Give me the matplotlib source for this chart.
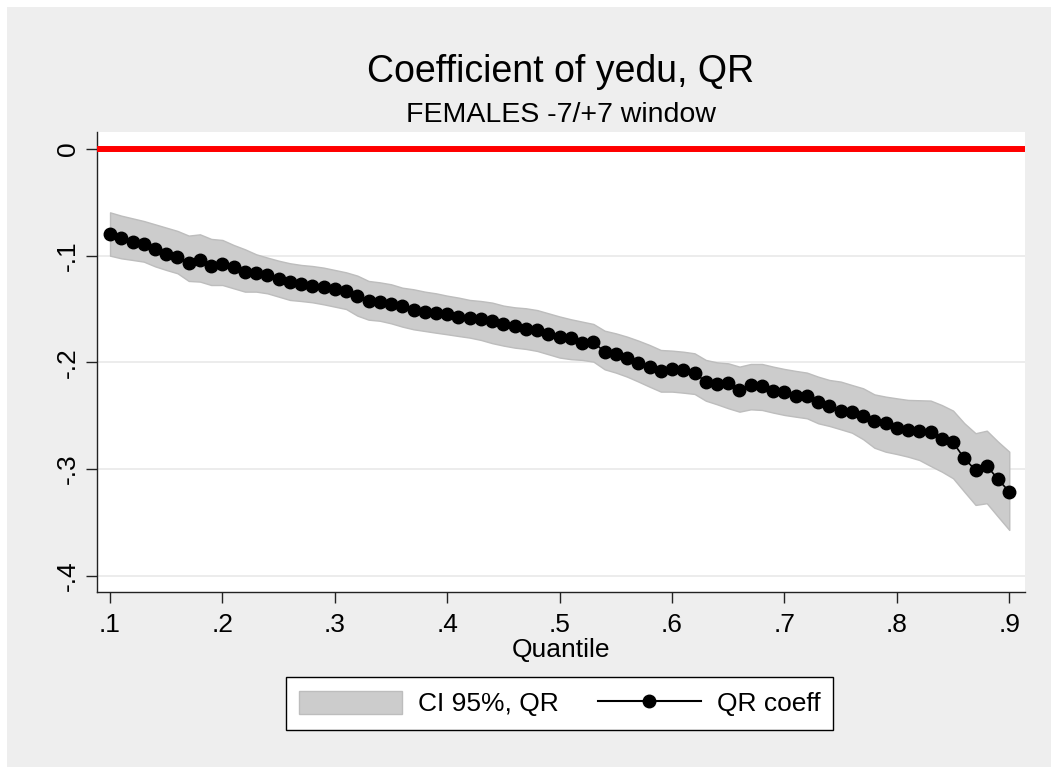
import numpy as np
import matplotlib
matplotlib.use("Agg")
import matplotlib.pyplot as plt
from matplotlib.patches import Rectangle, Patch
from matplotlib.lines import Line2D

plt.rcParams['font.family'] = ['Liberation Sans', 'DejaVu Sans']

# quantiles .10 ... .90
quantile = np.round(np.arange(10, 91) / 100.0, 2)

# QR coefficient of yedu at each quantile
coef = [
    -0.0800, -0.0837, -0.0875, -0.0889, -0.0940, -0.0981, -0.1015, -0.1068, -0.1043, -0.1093,
    -0.1081, -0.1106, -0.1155, -0.1163, -0.1180, -0.1220, -0.1250, -0.1270, -0.1280, -0.1292,
    -0.1315, -0.1330, -0.1375, -0.1425, -0.1437, -0.1456, -0.1475, -0.1510, -0.1530, -0.1534,
    -0.1550, -0.1578, -0.1587, -0.1590, -0.1610, -0.1643, -0.1656, -0.1687, -0.1700, -0.1730,
    -0.1765, -0.1774, -0.1815, -0.1812, -0.1900, -0.1925, -0.1960, -0.2003, -0.2046, -0.2080,
    -0.2065, -0.2070, -0.2100, -0.2180, -0.2200, -0.2196, -0.2259, -0.2212, -0.2218, -0.2265,
    -0.2280, -0.2312, -0.2312, -0.2368, -0.2409, -0.2452, -0.2468, -0.2502, -0.2553, -0.2570,
    -0.2618, -0.2634, -0.2640, -0.2650, -0.2718, -0.2750, -0.2900, -0.3010, -0.2968, -0.3096,
    -0.3212,
]

# 95% confidence band
ci_upper = [
    -0.0594, -0.0625, -0.0650, -0.0675, -0.0706, -0.0737, -0.0768, -0.0812, -0.0800, -0.0843,
    -0.0853, -0.0900, -0.0940, -0.0987, -0.1018, -0.1047, -0.1071, -0.1087, -0.1097, -0.1112,
    -0.1134, -0.1156, -0.1187, -0.1237, -0.1250, -0.1268, -0.1300, -0.1315, -0.1337, -0.1353,
    -0.1375, -0.1393, -0.1415, -0.1425, -0.1440, -0.1468, -0.1484, -0.1493, -0.1510, -0.1540,
    -0.1570, -0.1596, -0.1618, -0.1640, -0.1703, -0.1728, -0.1759, -0.1796, -0.1837, -0.1884,
    -0.1890, -0.1900, -0.1915, -0.1977, -0.2000, -0.2009, -0.2040, -0.2015, -0.2015, -0.2040,
    -0.2062, -0.2080, -0.2096, -0.2134, -0.2165, -0.2180, -0.2212, -0.2243, -0.2300, -0.2321,
    -0.2337, -0.2352, -0.2355, -0.2358, -0.2400, -0.2452, -0.2570, -0.2664, -0.2640, -0.2743,
    -0.2837,
]
ci_lower = [
    -0.1000, -0.1025, -0.1040, -0.1056, -0.1100, -0.1134, -0.1165, -0.1237, -0.1243, -0.1275,
    -0.1275, -0.1306, -0.1337, -0.1337, -0.1353, -0.1384, -0.1415, -0.1425, -0.1437, -0.1456,
    -0.1478, -0.1500, -0.1562, -0.1600, -0.1610, -0.1634, -0.1665, -0.1690, -0.1706, -0.1722,
    -0.1737, -0.1753, -0.1768, -0.1790, -0.1820, -0.1843, -0.1862, -0.1874, -0.1893, -0.1924,
    -0.1955, -0.1970, -0.1977, -0.1993, -0.2065, -0.2096, -0.2134, -0.2180, -0.2228, -0.2274,
    -0.2274, -0.2284, -0.2296, -0.2359, -0.2393, -0.2430, -0.2462, -0.2440, -0.2446, -0.2471,
    -0.2493, -0.2509, -0.2524, -0.2571, -0.2596, -0.2627, -0.2659, -0.2720, -0.2800, -0.2837,
    -0.2859, -0.2884, -0.2915, -0.2971, -0.3024, -0.3086, -0.3212, -0.3336, -0.3320, -0.3446,
    -0.3570,
]

xticks = [0.1, 0.2, 0.3, 0.4, 0.5, 0.6, 0.7, 0.8, 0.9]
xticklabels = ['.1', '.2', '.3', '.4', '.5', '.6', '.7', '.8', '.9']
yticks = [0.0, -0.1, -0.2, -0.3, -0.4]
yticklabels = ['0', '-.1', '-.2', '-.3', '-.4']

W, H = 1058, 774
fig = plt.figure(figsize=(W / 100, H / 100), dpi=100, facecolor='white')
fig.add_artist(Rectangle((7 / W, 7 / H), (W - 14) / W, (H - 14) / H,
                         transform=fig.transFigure, facecolor='#EEEEEE',
                         edgecolor='none', zorder=-1))

ax = fig.add_axes([97 / W, 1 - 592 / H, (1025 - 97) / W, (592 - 132) / H])
ax.set_facecolor('white')

ax.fill_between(quantile, ci_lower, ci_upper, facecolor='#CCCCCC',
                edgecolor='#BDBDBD', lw=1, zorder=2)
ax.axhline(0, color='red', lw=4.3, zorder=3)
ax.plot(quantile, coef, color='black', lw=1.2, marker='o', ms=9, zorder=4)

ax.set_xlim(0.0884, 0.914)
ax.set_ylim(-0.4152, 0.0159)

ax.set_xticks(xticks)
ax.set_xticklabels(xticklabels)
ax.set_yticks(yticks)
ax.set_yticklabels(yticklabels, rotation=90, va='center')

ax.yaxis.grid(True, color='#EAEAEA', lw=1.3)
ax.set_axisbelow(True)

for side in ['top', 'right']:
    ax.spines[side].set_visible(False)
for side in ['left', 'bottom']:
    ax.spines[side].set_color('#222222')
    ax.spines[side].set_linewidth(1)

ax.tick_params(axis='both', direction='out', length=8, width=1,
               color='#222222', labelsize=19)
ax.tick_params(axis='x', pad=7)
ax.tick_params(axis='y', pad=4.5)

fig.text(561 / W, 1 - 82 / H, 'Coefficient of yedu, QR', ha='center',
         va='baseline', fontsize=27)
fig.text(561 / W, 1 - 122 / H, 'FEMALES -7/+7 window', ha='center',
         va='baseline', fontsize=20.5)
fig.text(561 / W, 1 - 657 / H, 'Quantile', ha='center', va='baseline',
         fontsize=19)

handles = [
    Patch(facecolor='#CCCCCC', edgecolor='#BDBDBD', lw=1),
    Line2D([], [], color='black', lw=1.5, marker='o', ms=9),
]
leg = fig.legend(handles, ['CI 95%, QR', 'QR coeff'], loc='center',
                 bbox_to_anchor=(559.5 / W, 1 - 703.5 / H), ncol=2,
                 fontsize=19, frameon=True, fancybox=False, framealpha=1,
                 edgecolor='black', facecolor='white', handlelength=3.9,
                 handleheight=1.0, handletextpad=0.6, columnspacing=1.5,
                 borderpad=0.5, numpoints=1)
leg.get_frame().set_linewidth(1)

fig.savefig('out.png', dpi=100, facecolor=fig.get_facecolor())
